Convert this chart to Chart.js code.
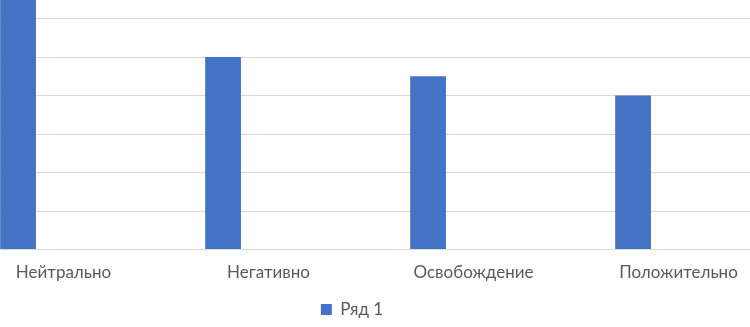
<!DOCTYPE html>
<html lang="ru">
<head>
<meta charset="utf-8">
<script src="https://cdn.jsdelivr.net/npm/chart.js@4/dist/chart.umd.min.js"></script>
<style>
  html, body { margin: 0; padding: 0; background: #fff; overflow: hidden; }
  body { width: 750px; height: 327px; position: relative; }
  /* the reference is a crop of a wider chart, so the canvas sticks out */
  #wrap { position: absolute; left: -39px; top: -20px; width: 820px; height: 348px; }
</style>
</head>
<body>
<div id="wrap"><canvas id="chart"></canvas></div>
<script>
// ---- data ----
const categories = ["Нейтрально", "Негативно", "Освобождение", "Положительно"];
const series1 = [6.8, 5, 4.5, 4];
// Excel template leftovers: empty series still reserve their slots
const series2 = [null, null, null, null];
const series3 = [null, null, null, null];
const yTicks = [0, 1, 2, 3, 4, 5, 6, 7];

const FONT = "Lato, 'Noto Sans', sans-serif";
const TEXT = "#595959";
const BLUE = "#4472C4";

// shift legend left a bit (the original chart was centered on a wider frame)
const legendShift = {
  id: "legendShift",
  afterLayout(chart) {
    chart.legend.left -= 19;
    chart.legend.right -= 19;
  },
};

new Chart(document.getElementById("chart"), {
  type: "bar",
  data: {
    labels: categories,
    datasets: [
      { label: "Ряд 1", data: series1, backgroundColor: BLUE },
      { label: "Ряд 2", data: series2, backgroundColor: "#ED7D31" },
      { label: "Ряд 3", data: series3, backgroundColor: "#A5A5A5" },
    ],
  },
  options: {
    responsive: true,
    maintainAspectRatio: false,
    animation: false,
    layout: { padding: 0 },
    datasets: { bar: { categoryPercentage: 0.665, barPercentage: 0.787 } },
    scales: {
      x: {
        grid: { display: false, drawTicks: false },
        border: { display: false },
        ticks: { color: TEXT, font: { family: FONT, size: 17 }, padding: 13, maxRotation: 0 },
      },
      y: {
        min: yTicks[0],
        max: yTicks[yTicks.length - 1],
        afterBuildTicks: (axis) => { axis.ticks = yTicks.map((v) => ({ value: v })); },
        grid: { color: "#D9D9D9", lineWidth: 1, drawTicks: false },
        border: { display: false },
        ticks: { display: false },
      },
    },
    plugins: {
      legend: {
        position: "bottom",
        labels: {
          color: TEXT,
          font: { family: FONT, size: 17 },
          boxWidth: 11,
          boxHeight: 11,
          padding: 5,
          filter: (item) => item.datasetIndex === 0,
        },
      },
      tooltip: { enabled: false },
    },
  },
  plugins: [legendShift],
});
</script>
</body>
</html>
